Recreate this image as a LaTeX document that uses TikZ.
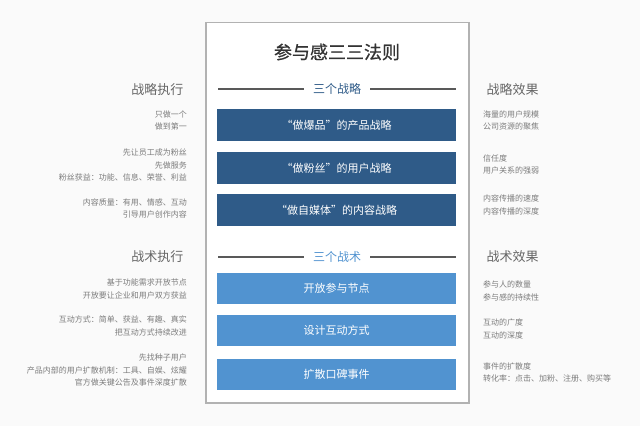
\documentclass[tikz,border=0pt]{standalone}
\usepackage{fontspec}
\setmainfont{Noto Sans CJK SC}
\newfontfamily\zhongti[FakeBold=0.8]{Noto Sans CJK SC}
\usetikzlibrary{positioning}
\definecolor{zhanlue}{HTML}{2F5B88}
\definecolor{zhanshu}{HTML}{5193D0}
\definecolor{huizi}{HTML}{7C7C7C}
\definecolor{biaoti}{HTML}{666666}
\begin{document}
\begin{tikzpicture}[x=1pt,y=-1pt,line cap=butt,line join=miter]
	\tikzset{
		hezi/.style={minimum width=239pt,minimum height=31.5pt,inner sep=0pt,text=white,font=\fontsize{11}{13}\selectfont},
		fenge/.style={fill=white,inner xsep=9pt,font=\fontsize{12}{14}\selectfont},
		lanmu/.style={text=biaoti,font=\fontsize{13}{15}\selectfont},
		xiaozi/.style={text=huizi,font=\fontsize{8}{12.3}\selectfont,inner sep=0pt}
	}
	\fill[black!2] (0,0) rectangle (640,426);
	\useasboundingbox (0,0) rectangle (640,426);
	\draw[black!30,line width=1.2pt,fill=white] (206,22.5) rectangle (469,403);
	\node[text=black!80,font=\fontsize{18}{20}\selectfont\zhongti] (title) at (337,52) {参与感三三法则};
	% 三个战略
	\coordinate (zl-l) at (218,89);
	\coordinate (zl-r) at (456,89);
	\node[fenge,text=zhanlue] (zl) at (337,89) {三个战略};
	\draw[black!65,line width=1.2pt] (zl-l)--(zl.west) (zl.east)--(zl-r);
	\node[hezi,fill=zhanlue] (zl1) at (336.5,125) {“做爆品”的产品战略};
	\node[hezi,fill=zhanlue] (zl2) at (336.5,168) {“做粉丝”的用户战略};
	\node[hezi,fill=zhanlue] (zl3) at (336.5,210) {“做自媒体”的内容战略};
	% 三个战术
	\coordinate (zs-l) at (218,257);
	\coordinate (zs-r) at (456,257);
	\node[fenge,text=zhanshu] (zs) at (337,257) {三个战术};
	\draw[black!65,line width=1.2pt] (zs-l)--(zs.west) (zs.east)--(zs-r);
	\node[hezi,fill=zhanshu] (zs1) at (336.5,288.5) {开放参与节点};
	\node[hezi,fill=zhanshu] (zs2) at (336.5,330.5) {设计互动方式};
	\node[hezi,fill=zhanshu] (zs3) at (336.5,374.5) {扩散口碑事件};
	% 左栏
	\node[lanmu,anchor=east] (zlzx) at (187,90) {战略执行};
	\node[lanmu,anchor=east] (zszx) at (187,257) {战术执行};
	\foreach \y/\t in {120.5/{只做一个\\做到第一},
			165/{先让员工成为粉丝\\先做服务\\粉丝获益：功能、信息、荣誉、利益},
			208.5/{内容质量：有用、情感、互动\\引导用户创作内容},
			289/{基于功能需求开放节点\\开放要让企业和用户双方获益},
			326/{互动方式：简单、获益、有趣、真实\\把互动方式持续改进},
			370/{先找种子用户\\产品内部的用户扩散机制：工具、自娱、炫耀\\官方做关键公告及事件深度扩散}}{
		\node[xiaozi,anchor=east,align=right] at (187,\y) {\t};
	}
	% 右栏
	\node[lanmu,anchor=west] (zlxg) at (483,90) {战略效果};
	\node[lanmu,anchor=west] (zsxg) at (483,257) {战术效果};
	\foreach \y/\t in {120.5/{海量的用户规模\\公司资源的聚焦},
			164.5/{信任度\\用户关系的强弱},
			205/{内容传播的速度\\内容传播的深度},
			291/{参与人的数量\\参与感的持续性},
			329/{互动的广度\\互动的深度},
			372.5/{事件的扩散度\\转化率：点击、加粉、注册、购买等}}{
		\node[xiaozi,anchor=west,align=left] at (483,\y) {\t};
	}
\end{tikzpicture}
\end{document}
